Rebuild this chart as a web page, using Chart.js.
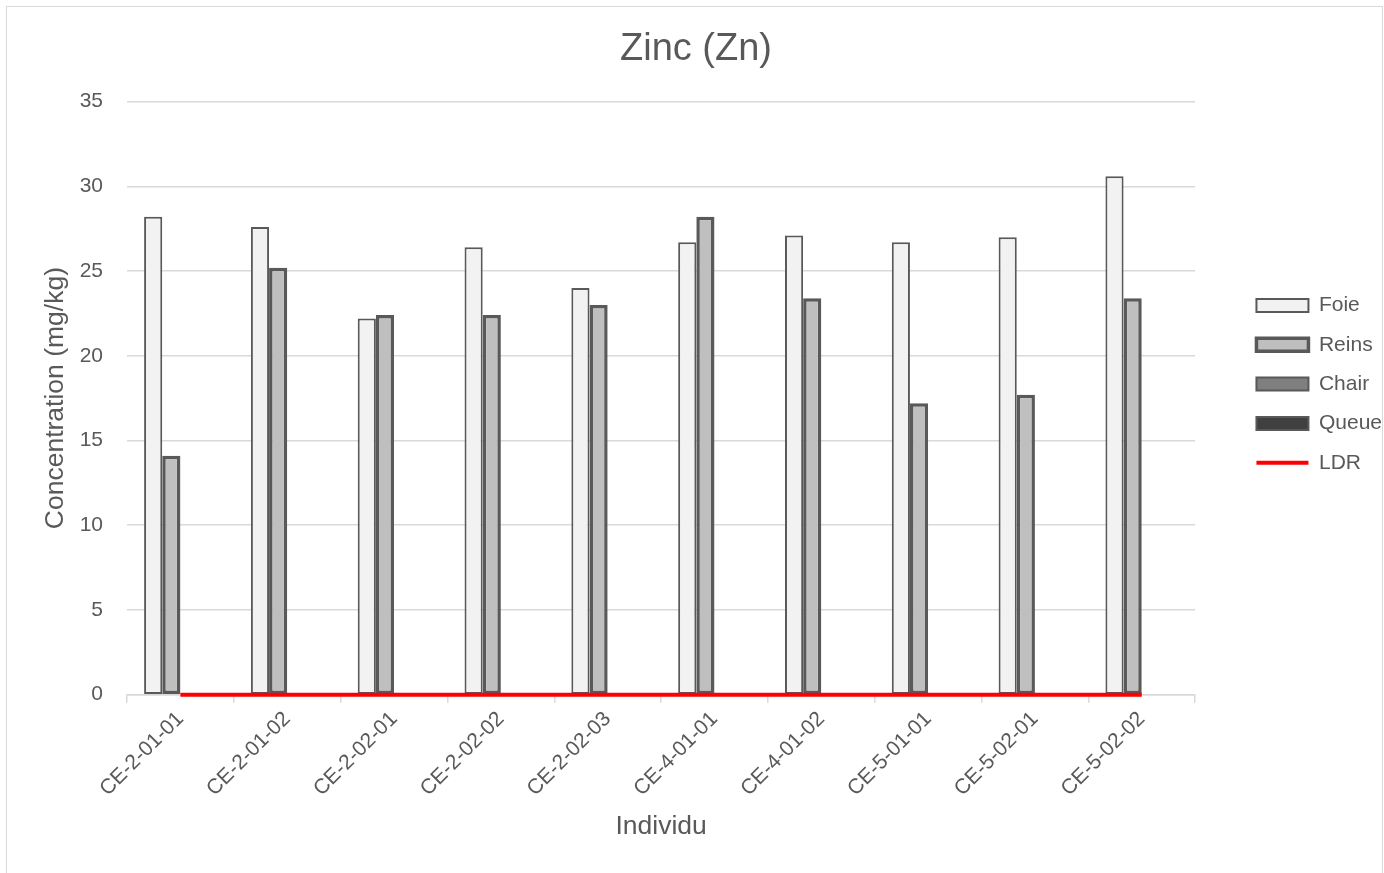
<!DOCTYPE html>
<html>
<head>
<meta charset="utf-8">
<script src="https://cdn.jsdelivr.net/npm/chart.js@4.4.1/dist/chart.umd.min.js"></script>
<style>
  html, body { margin: 0; padding: 0; background: #fff; overflow: hidden; width: 1384px; height: 873px; }
  #frame { position: absolute; left: 6px; top: 6px; width: 1377px; height: 870px; border: 1px solid #d9d9d9; box-sizing: border-box; }
  #wrap { position: absolute; left: 0; top: 0; width: 1392px; height: 873px; }
</style>
</head>
<body>
<div id="frame"></div>
<div id="wrap"><canvas id="chart"></canvas></div>
<script>
const categories = ['CE-2-01-01', 'CE-2-01-02', 'CE-2-02-01', 'CE-2-02-02', 'CE-2-02-03',
                    'CE-4-01-01', 'CE-4-01-02', 'CE-5-01-01', 'CE-5-02-01', 'CE-5-02-02'];
const foie  = [28.2, 27.6, 22.2, 26.4, 24.0, 26.7, 27.1, 26.7, 27.0, 30.6];
const reins = [14.1, 25.2, 22.4, 22.4, 23.0, 28.2, 23.4, 17.2, 17.7, 23.4];
const chair = [0, 0, 0, 0, 0, 0, 0, 0, 0, 0];
const queue = [0, 0, 0, 0, 0, 0, 0, 0, 0, 0];
const ldr   = [0, 0, 0, 0, 0, 0, 0, 0, 0, 0];

const textColor = '#595959';
const gridColor = '#d9d9d9';
const fontFamily = '"Liberation Sans", Arial, sans-serif';

const ctx = document.getElementById('chart').getContext('2d');
new Chart(ctx, {
    data: {
        labels: categories,
        datasets: [
            { type: 'bar', label: 'Foie', data: foie, backgroundColor: '#f2f2f2', borderColor: '#595959', borderWidth: 2, borderSkipped: false },
            { type: 'bar', label: 'Reins', data: reins, backgroundColor: '#bfbfbf', borderColor: '#595959', borderWidth: 3.5, borderSkipped: false },
            { type: 'bar', label: 'Chair', data: chair, backgroundColor: '#7f7f7f', borderColor: '#595959', borderWidth: 2, borderSkipped: false },
            { type: 'bar', label: 'Queue', data: queue, backgroundColor: '#404040', borderColor: '#595959', borderWidth: 2, borderSkipped: false },
            { type: 'line', label: 'LDR', data: ldr, borderColor: '#ff0000', backgroundColor: '#ff0000', borderWidth: 4, pointRadius: 0, fill: false, clip: false, order: -1 }
        ]
    },
    options: {
        responsive: true,
        maintainAspectRatio: false,
        animation: false,
        layout: { padding: { left: 0, right: 0, top: 14, bottom: 26 } },
        datasets: { bar: { categoryPercentage: 0.68, barPercentage: 1.0 } },
        plugins: {
            title: {
                display: true,
                text: 'Zinc (Zn)',
                color: textColor,
                font: { family: fontFamily, size: 38, weight: 'normal' },
                padding: { top: 13, bottom: 29 }
            },
            legend: {
                position: 'right',
                fullSize: false,
                title: { display: true, text: '', font: { size: 10 }, padding: { top: -40, bottom: 0 } },
                labels: {
                    color: textColor,
                    font: { family: fontFamily, size: 21 },
                    usePointStyle: true,
                    pointStyleWidth: 52,
                    boxHeight: 13,
                    padding: 18.3,
                    generateLabels: (chart) => chart.data.datasets.map((ds, i) => ({
                        text: ds.label,
                        fillStyle: ds.backgroundColor,
                        strokeStyle: ds.borderColor,
                        lineWidth: ds.type === 'line' ? 4 : ds.borderWidth,
                        pointStyle: ds.type === 'line' ? 'line' : 'rect',
                        fontColor: textColor,
                        datasetIndex: i,
                        hidden: false
                    }))
                }
            },
            tooltip: { enabled: false }
        },
        scales: {
            x: {
                offset: true,
                grid: { display: true, drawOnChartArea: false, offset: true, color: gridColor, tickLength: 8, lineWidth: 1.5 },
                border: { display: true, color: gridColor, width: 1.5 },
                ticks: { color: textColor, font: { family: fontFamily, size: 21 }, minRotation: 45, maxRotation: 45, padding: 4 },
                title: { display: true, text: 'Individu', color: textColor, font: { family: fontFamily, size: 26.5 }, padding: { top: 6 } }
            },
            y: {
                min: 0,
                max: 35,
                ticks: { stepSize: 5, color: textColor, font: { family: fontFamily, size: 21 }, padding: 8 },
                grid: { color: gridColor, lineWidth: 1.5, drawTicks: true, tickLength: 16, tickColor: 'rgba(0,0,0,0)' },
                border: { display: false },
                title: { display: true, text: 'Concentration (mg/kg)', color: textColor, font: { family: fontFamily, size: 26.5 }, padding: { top: 40, bottom: 0 } },
                afterFit: (scale) => { scale.width = 127; }
            },
            gap: {
                position: 'right',
                display: true,
                ticks: { display: false },
                grid: { display: false },
                border: { display: false },
                afterFit: (scale) => { scale.width = 43; }
            }
        }
    }
});
</script>
</body>
</html>
